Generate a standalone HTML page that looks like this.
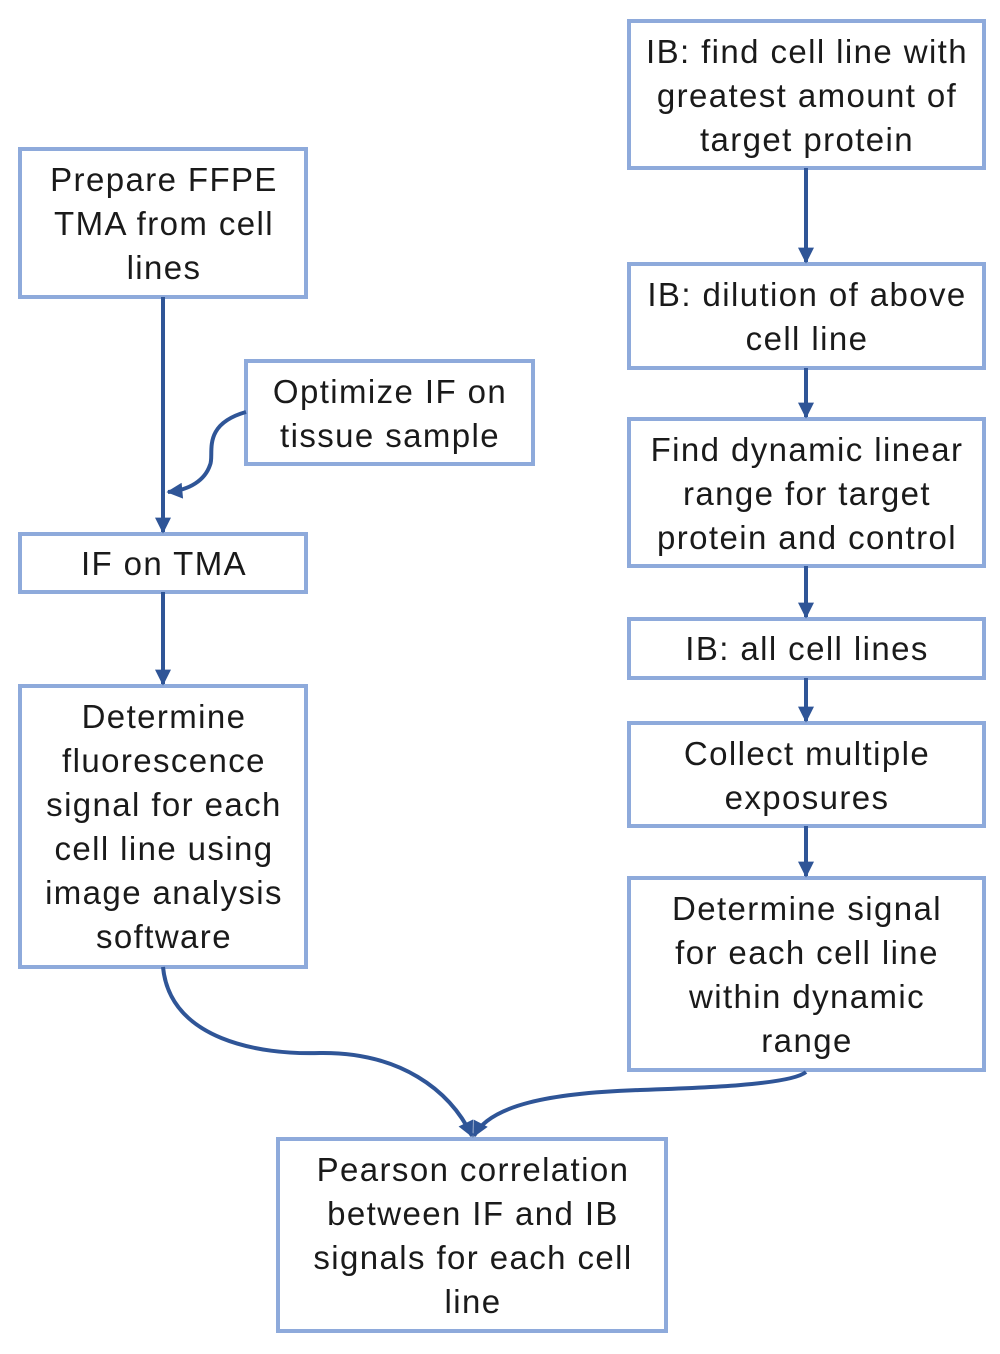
<!DOCTYPE html>
<html><head><style>body{margin:0;background:#fff}</style></head><body>
<svg width="1000" height="1349" xmlns="http://www.w3.org/2000/svg" font-family="Liberation Sans, Arial, sans-serif" font-size="33" letter-spacing="1.4" fill="#1a1a1a">
<defs>
<marker id="m" viewBox="0 0 10 10" refX="9" refY="5" markerWidth="18" markerHeight="16" markerUnits="userSpaceOnUse" orient="auto"><path d="M0,0 L10,5 L0,10 z" fill="#2f5597"/></marker></defs>
<g fill="none" stroke="#8eaadb" stroke-width="4">
<rect x="20" y="149" width="286" height="148"/>
<rect x="246" y="361" width="287" height="103"/>
<rect x="20" y="534" width="286" height="58"/>
<rect x="20" y="686" width="286" height="281"/>
<rect x="629" y="21" width="355" height="147"/>
<rect x="629" y="264" width="355" height="104"/>
<rect x="629" y="419" width="355" height="147"/>
<rect x="629" y="619" width="355" height="59"/>
<rect x="629" y="723" width="355" height="103"/>
<rect x="629" y="878" width="355" height="192"/>
<rect x="278" y="1139" width="388" height="192"/>
</g>
<g fill="none" stroke="#2f5597" stroke-width="4" marker-end="url(#m)">
<line x1="163" y1="297" x2="163" y2="532"/>
<path d="M246,412 C200,425 215,455 210,465 C205,480 190,490 168,492"/>
<line x1="163" y1="592" x2="163" y2="684"/>
<line x1="806" y1="168" x2="806" y2="262"/>
<line x1="806" y1="368" x2="806" y2="417"/>
<line x1="806" y1="566" x2="806" y2="617"/>
<line x1="806" y1="678" x2="806" y2="721"/>
<line x1="806" y1="826" x2="806" y2="876"/>
<path d="M163,967 C170,1040 260,1055 320,1053 C400,1052 450,1090 472,1136"/>
<path d="M806,1072 C790,1085 700,1088 640,1090 C550,1093 490,1105 474,1136"/>
</g>
<g text-anchor="middle">
<text x="164" y="191">Prepare FFPE</text><text x="164" y="235">TMA from cell</text><text x="164" y="279">lines</text>
<text x="390" y="403">Optimize IF on</text><text x="390" y="447">tissue sample</text>
<text x="164" y="575">IF on TMA</text>
<text x="164" y="728">Determine</text><text x="164" y="772">fluorescence</text><text x="164" y="816">signal for each</text><text x="164" y="860">cell line using</text><text x="164" y="904">image analysis</text><text x="164" y="948">software</text>
<text x="807" y="63">IB: find cell line with</text><text x="807" y="107">greatest amount of</text><text x="807" y="151">target protein</text>
<text x="807" y="306">IB: dilution of above</text><text x="807" y="350">cell line</text>
<text x="807" y="461">Find dynamic linear</text><text x="807" y="505">range for target</text><text x="807" y="549">protein and control</text>
<text x="807" y="660">IB: all cell lines</text>
<text x="807" y="765">Collect multiple</text><text x="807" y="809">exposures</text>
<text x="807" y="920">Determine signal</text><text x="807" y="964">for each cell line</text><text x="807" y="1008">within dynamic</text><text x="807" y="1052">range</text>
<text x="473" y="1181">Pearson correlation</text><text x="473" y="1225">between IF and IB</text><text x="473" y="1269">signals for each cell</text><text x="473" y="1313">line</text>
</g>
</svg>
</body></html>
